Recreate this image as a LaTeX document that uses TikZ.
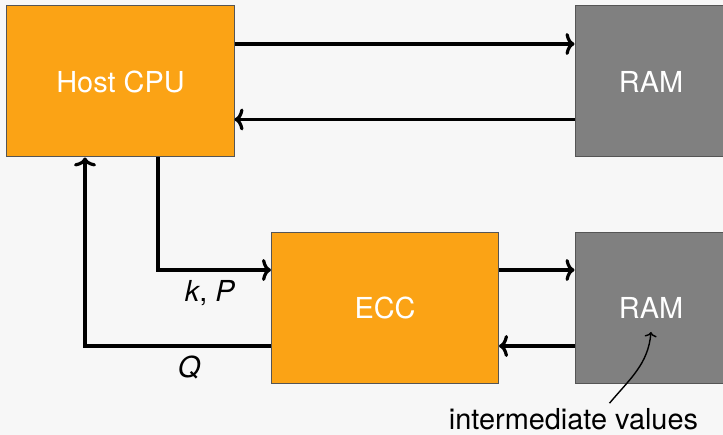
\documentclass[tikz,border=0pt]{standalone}
\usepackage{fontspec}
\setmainfont{TeX Gyre Heros}
\usepackage{tikz}
\usetikzlibrary{positioning, calc, arrows.meta}
\definecolor{cpuorange}{RGB}{251,163,21}
\definecolor{ramgray}{RGB}{128,128,128}
\definecolor{edgegray}{RGB}{85,85,85}
\definecolor{bggray}{RGB}{247,247,247}

\begin{document}
\begin{tikzpicture}[x=0.5bp, y=-0.5bp,
    every node/.style={font=\fontsize{14.5}{17}\selectfont},
    unit/.style={draw=edgegray, line width=0.5bp, fill=cpuorange, text=white,
                 minimum width=113.5bp, minimum height=75.5bp, inner sep=0pt},
    mem/.style={unit, fill=ramgray, minimum width=76bp},
    link/.style={line width=1.6bp, -{To[length=4.5bp, width=11bp]}}]
  \useasboundingbox (0,0) rectangle (723,435);
  \fill[bggray] (0,0) rectangle (723,435);

  \node[unit] (host) at (120.5,81.5) {Host CPU};
  \node[mem]  (ram1) at (651,81.5)   {RAM};
  \node[unit] (ecc)  at (385,308)    {ECC};
  \node[mem]  (ram2) at (651,308)    {RAM};

  % host <-> memory
  \draw[link] ([yshift=18.75bp]host.east) -- ([yshift=18.75bp]ram1.west);
  \draw[link] ([yshift=-19bp]ram1.west) -- ([yshift=-19bp]host.east);

  % host <-> ecc
  \draw[link] ([xshift=18.75bp]host.south) |- ([yshift=19bp]ecc.west)
    node[pos=0.73, below=1bp] {\textit{k}, \textit{P}};
  \draw[link] ([yshift=-19bp]ecc.west) -| ([xshift=-17.75bp]host.south)
    node[pos=0.22, below=1bp] {\textit{Q}};

  % ecc <-> memory
  \draw[link] ([yshift=19bp]ecc.east) -- ([yshift=19bp]ram2.west);
  \draw[link] ([yshift=-19bp]ram2.west) -- ([yshift=-19bp]ecc.east);

  \node (iv) at (573.5,419) {intermediate values};
  \draw[line width=0.7bp, -{To[length=2.5bp, width=6bp]}]
    ([xshift=18bp,yshift=-1bp]iv.north) to[out=50, in=-95] ([yshift=-12bp]ram2.center);
\end{tikzpicture}
\end{document}
